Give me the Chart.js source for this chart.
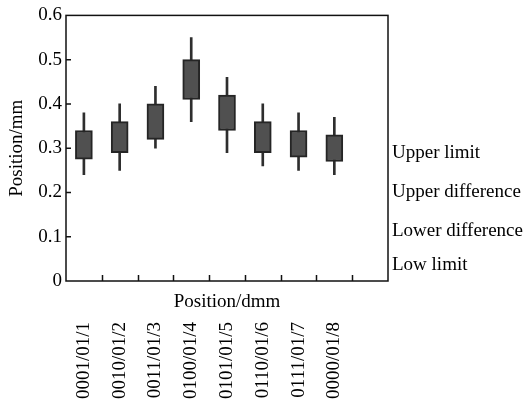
<!DOCTYPE html>
<html>
<head>
<meta charset="utf-8">
<script src="https://cdn.jsdelivr.net/npm/chart.js@4/dist/chart.umd.min.js"></script>
<style>
  html, body { margin: 0; padding: 0; background: #ffffff; }
  canvas { display: block; }
</style>
</head>
<body>
<canvas id="c" width="528" height="405"></canvas>
<script>
// ---- data ----
const categories = ['0001/01/1', '0010/01/2', '0011/01/3', '0100/01/4', '0101/01/5', '0110/01/6', '0111/01/7', '0000/01/8', ''];
const boxLow   = [0.275, 0.29, 0.32, 0.41, 0.34, 0.29, 0.28, 0.27];
const boxHigh  = [0.34, 0.36, 0.40, 0.50, 0.42, 0.36, 0.34, 0.33];
const whiskerMin = [0.24, 0.25, 0.30, 0.36, 0.29, 0.26, 0.25, 0.24];
const whiskerMax = [0.38, 0.40, 0.44, 0.55, 0.46, 0.40, 0.38, 0.37];
const yTicks = [0, 0.1, 0.2, 0.3, 0.4, 0.5, 0.6];
const rightLabels = ['Upper limit', 'Upper difference', 'Lower difference', 'Low limit'];
const rightLabelValues = [0.289, 0.200, 0.113, 0.037];

const FONT = { family: "'Liberation Serif', 'Times New Roman', serif", size: 19 };
const INK = '#000000';

const framePlugin = {
  id: 'frame',
  afterDatasetsDraw(chart) {
    const { ctx, chartArea: a, scales } = chart;
    ctx.save();
    ctx.strokeStyle = '#111111';
    ctx.lineWidth = 1.5;
    ctx.strokeRect(a.left, a.top, a.right - a.left, a.bottom - a.top);
    ctx.beginPath();
    // inward y ticks
    scales.y.ticks.forEach(t => {
      if (t.value <= 0 || t.value >= 0.6) return;
      const py = scales.y.getPixelForValue(t.value);
      ctx.moveTo(a.left, py);
      ctx.lineTo(a.left + 5, py);
    });
    // inward x ticks between categories
    const x = scales.x;
    const step = x.getPixelForTick(1) - x.getPixelForTick(0);
    for (let i = 1; i < categories.length; i++) {
      const px = Math.round(x.getPixelForTick(i) - step / 2) + 0.5;
      ctx.moveTo(px, a.bottom);
      ctx.lineTo(px, a.bottom - 6);
    }
    ctx.stroke();
    ctx.restore();
  }
};

new Chart(document.getElementById('c'), {
  type: 'bar',
  data: {
    labels: categories,
    datasets: [
      {
        label: 'whisker',
        data: whiskerMin.map((v, i) => [v, whiskerMax[i]]),
        backgroundColor: '#2e2e2e',
        borderWidth: 0,
        barThickness: 2,
        grouped: false,
        order: 2
      },
      {
        label: 'box',
        data: boxLow.map((v, i) => [v, boxHigh[i]]),
        backgroundColor: '#505050',
        borderColor: '#252525',
        borderWidth: 2,
        borderSkipped: false,
        barThickness: 17,
        grouped: false,
        order: 1
      }
    ]
  },
  options: {
    responsive: false,
    animation: false,
    events: [],
    layout: { padding: { top: 15, left: 0, right: 0, bottom: 0 } },
    plugins: { legend: { display: false }, tooltip: { enabled: false } },
    scales: {
      x: {
        type: 'category',
        position: 'bottom',
        weight: 0,
        offset: true,
        grid: { display: false, drawTicks: false, offset: true },
        border: { display: false },
        ticks: { display: false },
        title: { display: true, text: 'Position/dmm', color: INK, font: FONT, padding: { top: 0, bottom: 8 } },
        afterFit(s) { s.height = 40; }
      },
      x2: {
        type: 'category',
        position: 'bottom',
        weight: 1,
        offset: true,
        grid: { display: false, drawTicks: false },
        border: { display: false },
        ticks: { color: INK, font: FONT, minRotation: 90, maxRotation: 90, autoSkip: false, padding: 1 },
        afterFit(s) { s.height = 84; }
      },
      y: {
        type: 'linear',
        position: 'left',
        min: 0,
        max: 0.6,
        afterBuildTicks(s) { s.ticks = yTicks.map(v => ({ value: v })); },
        grid: { display: false, drawTicks: false },
        border: { display: false },
        ticks: { color: INK, font: FONT, padding: 4, callback: v => (v === 0 ? '0' : v.toFixed(1)) },
        title: { display: true, text: 'Position/mm', color: INK, font: FONT, padding: { top: 6, bottom: 0 } },
        afterFit(s) { s.width = 66; }
      },
      yR: {
        type: 'linear',
        position: 'right',
        min: 0,
        max: 0.6,
        afterBuildTicks(s) { s.ticks = rightLabelValues.map(v => ({ value: v })); },
        grid: { display: false, drawTicks: false },
        border: { display: false },
        ticks: {
          color: INK, font: FONT, padding: 4,
          callback: (v, i) => rightLabels[i]
        },
        afterFit(s) { s.width = 140; }
      }
    }
  },
  plugins: [framePlugin]
});
</script>
</body>
</html>
